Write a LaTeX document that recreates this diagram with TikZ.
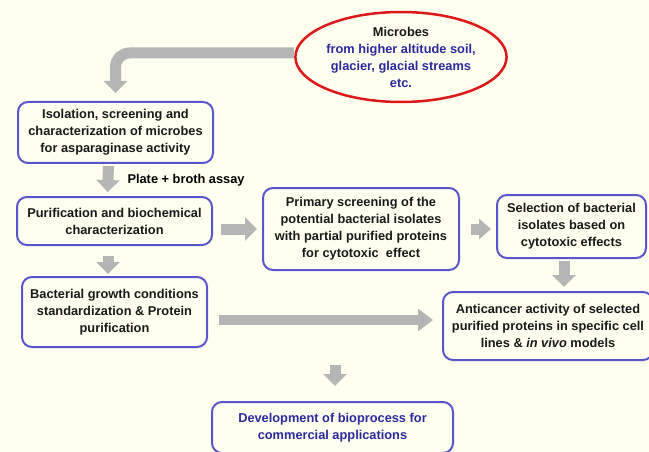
\documentclass[tikz,border=0pt]{standalone}
\usepackage{fontspec}
\setmainfont{Liberation Sans}
\usetikzlibrary{shapes.geometric,arrows.meta}

\definecolor{bgcream}{HTML}{FFFFEF}
\definecolor{boxline}{HTML}{5A55CC}
\definecolor{txtblue}{HTML}{2A2A9E}
\definecolor{arrowgray}{HTML}{B5B5B5}
\definecolor{ovalred}{HTML}{DD1818}

\tikzset{
    stage/.style={draw=boxline, line width=2pt, rounded corners=10pt, align=center,
        inner sep=0pt, font=\fontsize{12.8}{17}\selectfont\bfseries, text=black!90},
    blockarrow/.style={draw=arrowgray, line width=11pt,
        -{Triangle[length=12pt,width=23pt]}},
}

\begin{document}
\begin{tikzpicture}[x=1pt,y=-1pt]
    \fill[bgcream] (0,0) rectangle (649,452);
    \useasboundingbox (0,0) rectangle (649,452);

    % source of the microbes
    \node[ellipse, draw=ovalred, line width=2.5pt, fill=bgcream, inner sep=0pt,
        minimum width=172pt, minimum height=90pt, align=center,
        font=\fontsize{12.8}{17}\selectfont\bfseries] (mic) at (401,57)
        {\textcolor{black!90}{Microbes}\\\textcolor{txtblue}{from higher altitude soil,}\\
         \textcolor{txtblue}{glacier, glacial streams}\\\textcolor{txtblue}{etc.}};

    % boxes
    \node[stage, minimum width=195pt, minimum height=61pt] (iso) at (115.5,132.5)
        {Isolation, screening and\\characterization of microbes\\for asparaginase activity};
    \node[stage, minimum width=195pt, minimum height=48pt] (pur) at (114.5,221)
        {Purification and biochemical\\characterization};
    \node[stage, minimum width=196pt, minimum height=82pt] (pri) at (361,229)
        {Primary screening of the\\potential bacterial isolates\\with partial purified proteins\\for cytotoxic\ \ effect};
    \node[stage, minimum width=149pt, minimum height=63pt] (sel) at (571.5,226.5)
        {Selection of bacterial\\isolates based on\\cytotoxic effects};
    \node[stage, minimum width=185pt, minimum height=70pt] (bac) at (114.5,312)
        {Bacterial growth conditions\\standardization \& Protein\\purification};
    \node[stage, minimum width=210pt, minimum height=68pt] (anti) at (548,326)
        {Anticancer activity of selected\\purified proteins in specific cell\\lines \& \textit{in vivo} models};
    \node[stage, text=txtblue, minimum width=241pt, minimum height=51pt] (dev) at (332.5,427.5)
        {Development of bioprocess for\\commercial applications};

    % arrows
    \draw[blockarrow, rounded corners=14pt, shorten >=8pt] ([yshift=4pt]mic.west) -| (iso.north);
    \draw[blockarrow, shorten <=2pt, shorten >=4pt]
        ([xshift=-7pt]iso.south) -- ([xshift=-7pt]pur.north);
    \node[font=\fontsize{12.8}{17}\selectfont\bfseries, anchor=west] (assay) at (124,180) {Plate + broth assay};
    \draw[blockarrow, shorten <=10pt, shorten >=2pt]
        ([xshift=-6.5pt]pur.south) -- ([xshift=-6.5pt]bac.north);
    \draw[blockarrow, shorten <=8pt, shorten >=5pt]
        ([yshift=-8pt]pur.east) -- (pri.west);
    \draw[blockarrow, shorten <=11pt, shorten >=5pt,
        -{Triangle[length=12pt,width=20pt]}] (pri.east) -- (pri.east -| sel.west);
    \draw[blockarrow, shorten <=2pt, shorten >=4pt]
        ([xshift=-7.5pt]sel.south) -- ([xshift=-7.5pt]sel.south |- anti.north);
    \draw[blockarrow, line width=10pt, shorten <=11pt, shorten >=9pt,
        -{Triangle[length=15pt,width=22pt]}]
        ([yshift=-8pt]bac.east) -- ([yshift=-8pt]bac.east -| anti.west);
    \coordinate (down) at (335,365);
    \draw[blockarrow, shorten >=15pt] (down) -- (down |- dev.north);
\end{tikzpicture}
\end{document}
